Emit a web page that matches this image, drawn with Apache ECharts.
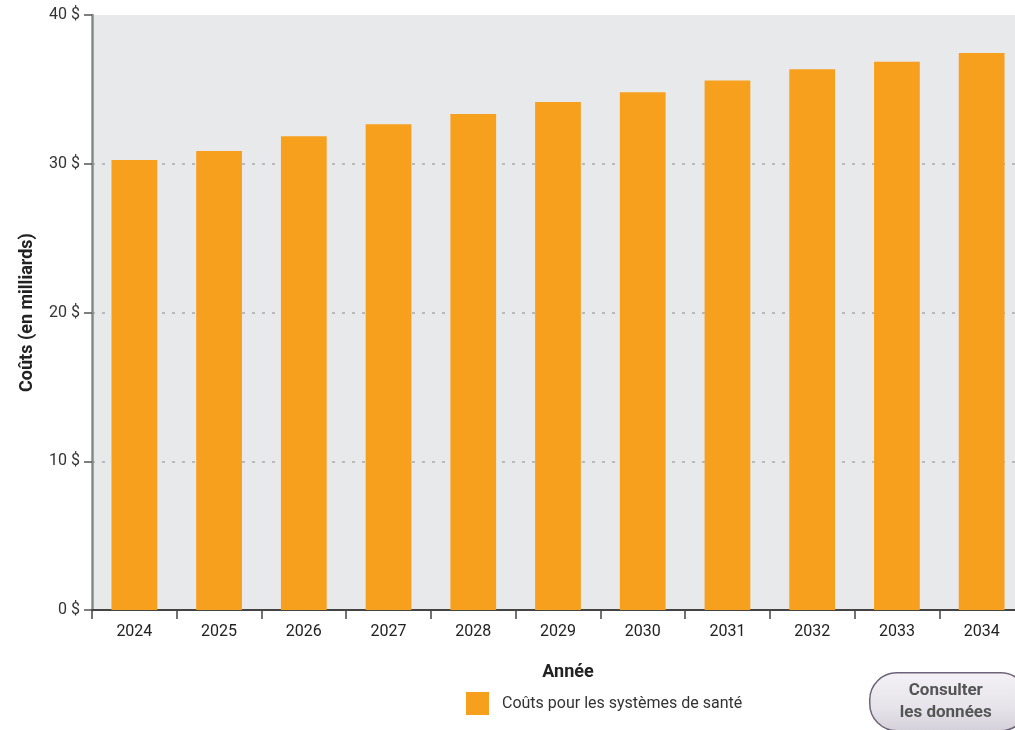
<!DOCTYPE html>
<html>
<head>
<meta charset="utf-8">
<script src="https://cdn.jsdelivr.net/npm/echarts@6/dist/echarts.min.js"></script>
<style>
  html, body { margin: 0; padding: 0; background: #fff; }
  #chart { width: 1015px; height: 730px; }
</style>
</head>
<body>
<div id="chart"></div>
<script>
// Projected health-system costs by year (billions of dollars)
const years = ['2024', '2025', '2026', '2027', '2028', '2029', '2030', '2031', '2032', '2033', '2034'];
const costs = [30.25, 30.85, 31.85, 32.65, 33.35, 34.15, 34.8, 35.6, 36.35, 36.85, 37.45];
const seriesName = 'Coûts pour les systèmes de santé';
const yTicks = [0, 10, 20, 30, 40];

const FONT = '"Roboto", sans-serif';

const chart = echarts.init(document.getElementById('chart'), null, { renderer: 'canvas' });

chart.setOption({
  animation: false,
  textStyle: { fontFamily: FONT },
  grid: {
    left: 92, top: 15, width: 932, bottom: 120,
    outerBoundsMode: 'none',
    containLabel: false,
    show: true, backgroundColor: '#e8e9eb', borderWidth: 0
  },
  legend: {
    data: [seriesName],
    left: 461, top: 687,
    itemWidth: 23, itemHeight: 23, itemGap: 10,
    icon: 'rect',
    textStyle: { fontFamily: FONT, fontSize: 16, color: '#333', padding: [0, 0, 0, 8] },
    selectedMode: false
  },
  xAxis: {
    type: 'category',
    data: years,
    name: 'Année',
    nameLocation: 'middle',
    nameGap: 53,
    nameTextStyle: { fontFamily: FONT, fontSize: 18, fontWeight: 'bold', color: '#222', padding: [0, 0, 0, 20] },
    axisLine: { lineStyle: { color: '#444', width: 2 } },
    axisTick: { show: true, length: 9, lineStyle: { color: '#444', width: 1.5 } },
    axisLabel: { fontFamily: FONT, fontSize: 16, color: '#222', margin: 14 }
  },
  yAxis: {
    type: 'value',
    min: yTicks[0], max: yTicks[yTicks.length - 1], interval: 10,
    name: 'Coûts (en milliards)',
    nameLocation: 'middle',
    nameGap: 56,
    nameRotate: 90,
    nameTextStyle: { fontFamily: FONT, fontSize: 18, fontWeight: 'bold', color: '#222' },
    axisLine: { show: true, lineStyle: { color: '#888', width: 2.5 } },
    axisTick: { show: true, length: 8, lineStyle: { color: '#555', width: 1.5 } },
    axisLabel: { fontFamily: FONT, fontSize: 16, color: '#333', margin: 12, formatter: '{value} $' },
    splitLine: {
      show: true, showMinLine: false, showMaxLine: false,
      lineStyle: { color: '#a9abae', width: 1.5, type: [3, 7] }
    }
  },
  series: [{
    name: seriesName,
    type: 'bar',
    data: costs,
    barWidth: '54%',
    itemStyle: { color: '#f7a01e' }
  }],
  graphic: [{
    type: 'group',
    left: 869, top: 672,
    children: [{
      type: 'rect',
      shape: { x: 0, y: 0, width: 158, height: 58, r: 27 },
      style: {
        fill: new echarts.graphic.LinearGradient(0, 0, 0, 1, [
          { offset: 0, color: '#f4f2f6' },
          { offset: 0.6, color: '#e6e3ea' },
          { offset: 1, color: '#d4d0d9' }
        ]),
        stroke: '#6e6479', lineWidth: 1.5
      }
    }, {
      type: 'text',
      style: {
        x: 76, y: 29,
        text: 'Consulter\nles données',
        align: 'center', verticalAlign: 'middle',
        fontFamily: FONT, fontSize: 17, fontWeight: 'bold', lineHeight: 22,
        fill: '#555'
      }
    }]
  }]
});
</script>
</body>
</html>
